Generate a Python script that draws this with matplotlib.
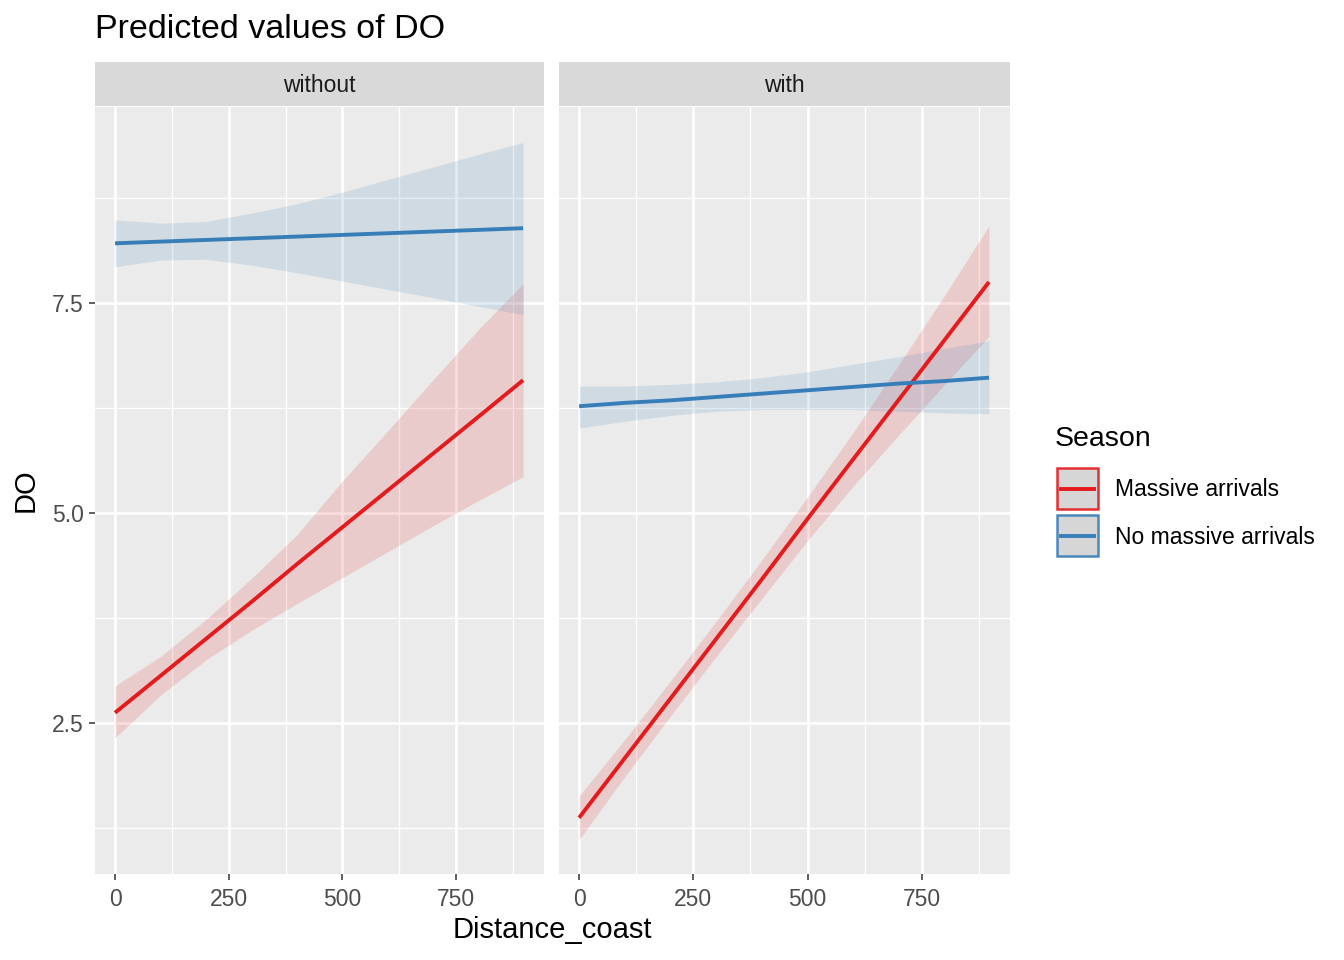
import matplotlib
matplotlib.use('Agg')
import matplotlib.pyplot as plt
from matplotlib.patches import Rectangle

plt.rcParams['font.family'] = ['Liberation Sans', 'DejaVu Sans']

# predicted values
dist = [0, 100, 200, 300, 400, 500, 600, 700, 800, 897]
panels = ['without', 'with']
seasons = ['Massive arrivals', 'No massive arrivals']
colors = {'Massive arrivals': '#E41A1C', 'No massive arrivals': '#377EB8'}

pred_without_massive = [2.62, 3.06, 3.50, 3.94, 4.39, 4.83, 5.27, 5.71, 6.15, 6.58]
lo_without_massive = [2.32, 2.83, 3.25, 3.60, 3.92, 4.23, 4.54, 4.85, 5.15, 5.43]
hi_without_massive = [2.94, 3.29, 3.73, 4.22, 4.74, 5.38, 5.98, 6.59, 7.19, 7.73]

pred_without_nomass = [8.21, 8.23, 8.25, 8.27, 8.29, 8.31, 8.33, 8.35, 8.37, 8.39]
lo_without_nomass = [7.93, 8.01, 8.02, 7.95, 7.86, 7.76, 7.66, 7.56, 7.46, 7.36]
hi_without_nomass = [8.49, 8.45, 8.47, 8.57, 8.68, 8.82, 8.97, 9.12, 9.27, 9.41]

pred_with_massive = [1.37, 2.08, 2.79, 3.50, 4.21, 4.93, 5.64, 6.35, 7.06, 7.75]
lo_with_massive = [1.11, 1.86, 2.58, 3.29, 3.98, 4.67, 5.32, 5.93, 6.53, 7.10]
hi_with_massive = [1.63, 2.30, 3.00, 3.71, 4.44, 5.19, 5.96, 6.77, 7.59, 8.42]

pred_with_nomass = [6.27, 6.31, 6.34, 6.38, 6.42, 6.46, 6.50, 6.54, 6.57, 6.61]
lo_with_nomass = [6.01, 6.09, 6.16, 6.21, 6.23, 6.23, 6.23, 6.21, 6.19, 6.18]
hi_with_nomass = [6.51, 6.51, 6.53, 6.56, 6.61, 6.68, 6.77, 6.86, 6.96, 7.05]

data = {
    'without': {'Massive arrivals': (pred_without_massive, lo_without_massive, hi_without_massive),
                'No massive arrivals': (pred_without_nomass, lo_without_nomass, hi_without_nomass)},
    'with': {'Massive arrivals': (pred_with_massive, lo_with_massive, hi_with_massive),
             'No massive arrivals': (pred_with_nomass, lo_with_nomass, hi_with_nomass)},
}

x_ticks = [0, 250, 500, 750]
x_minor = [125, 375, 625, 875]
y_ticks = [2.5, 5.0, 7.5]
y_minor = [1.25, 3.75, 6.25, 8.75]

W, H = 1344, 960
fig = plt.figure(figsize=(W / 100, H / 100), dpi=100)

panel_px = [(95, 544), (559, 1010)]
top_px, bottom_px = 107, 874
strip_top = 62

for i, name in enumerate(panels):
    x0, x1 = panel_px[i]
    ax = fig.add_axes([x0 / W, 1 - bottom_px / H, (x1 - x0) / W, (bottom_px - top_px) / H])
    ax.set_facecolor('#EBEBEB')
    for s in seasons:
        pred, lo, hi = data[name][s]
        ax.fill_between(dist, lo, hi, color=colors[s], alpha=0.15, lw=0, zorder=2)
    for s in seasons:
        pred, lo, hi = data[name][s]
        ax.plot(dist, pred, color=colors[s], lw=2.8, zorder=3, solid_capstyle='butt')
    ax.set_xlim(-44, 943)
    ax.set_ylim(0.70, 9.833)
    ax.set_xticks(x_ticks)
    ax.set_xticks(x_minor, minor=True)
    ax.set_yticks(y_ticks)
    ax.set_yticks(y_minor, minor=True)
    ax.grid(which='major', color='white', lw=1.9, zorder=1)
    ax.grid(which='minor', color='white', lw=0.95, zorder=1)
    ax.set_axisbelow(True)
    for sp in ax.spines.values():
        sp.set_visible(False)
    ax.tick_params(which='major', length=4, width=1.1, color='#333333',
                   labelsize=16.5, labelcolor='#4D4D4D', pad=4)
    ax.tick_params(axis='x', pad=6)
    ax.tick_params(which='minor', length=0)
    ax.set_yticklabels(['2.5', '5.0', '7.5'])
    if i == 1:
        ax.tick_params(axis='y', which='both', left=False, labelleft=False)
    # facet strip
    sax = fig.add_axes([x0 / W, 1 - top_px / H + 1 / H, (x1 - x0) / W, (top_px - strip_top - 1) / H])
    sax.set_facecolor('#D9D9D9')
    sax.set_xticks([])
    sax.set_yticks([])
    for sp in sax.spines.values():
        sp.set_visible(False)
    sax.text(0.5, 0.46, name, ha='center', va='center', fontsize=16.5, color='#1A1A1A',
             transform=sax.transAxes)

fig.text(95 / W, 1 - 29 / H, 'Predicted values of DO', fontsize=24.5, ha='left', va='center')
fig.text((95 + 1010) / 2 / W, 1 - 930 / H, 'Distance_coast', fontsize=21, ha='center', va='center')
fig.text(26 / W, 1 - 490 / H, 'DO', fontsize=21, rotation=90, ha='center', va='center')

# legend
lax = fig.add_axes([0, 0, 1, 1])
lax.set_xlim(0, W)
lax.set_ylim(H, 0)
lax.axis('off')
lax.text(1055, 439, 'Season', fontsize=20.5, ha='left', va='center')
for k, s in enumerate(seasons):
    yk = 467 + k * 47
    lax.add_patch(Rectangle((1057, yk + 1), 41, 41, facecolor='#D2D2D2',
                            edgecolor=colors[s], lw=1.8, alpha=0.9))
    lax.plot([1061, 1094], [yk + 21.5, yk + 21.5], color=colors[s], lw=2.8)
    lax.text(1115, yk + 23, s, fontsize=16.5, ha='left', va='center')

fig.savefig('out.png', dpi=100)
